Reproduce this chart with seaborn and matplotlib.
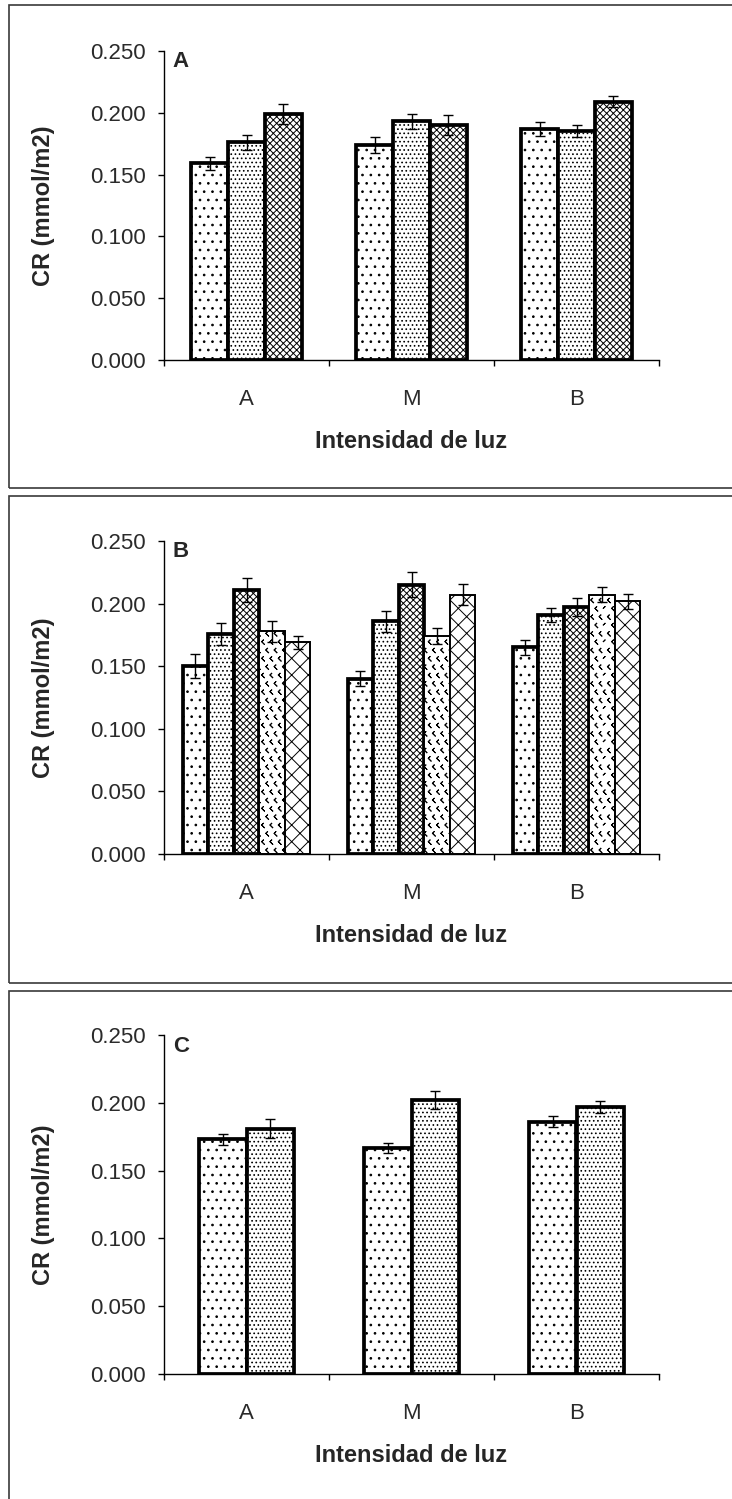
import numpy as np
import pandas as pd
import matplotlib
matplotlib.use("Agg")
import matplotlib.pyplot as plt
import matplotlib.hatch as mhatch
from matplotlib.path import Path
from matplotlib.patches import Rectangle
from matplotlib.container import BarContainer
from matplotlib.ticker import FormatStrFormatter
import seaborn as sns

# ---------------------------------------------------------------- data
categories = ["A", "M", "B"]
yticks = [0.000, 0.050, 0.100, 0.150, 0.200, 0.250]
x_title = "Intensidad de luz"
y_title = "CR (mmol/m2)"
panel_tags = ["A", "B", "C"]

# Panel A: three treatments
a_series = ["T1", "T2", "T3"]
a_t1 = [0.159, 0.174, 0.187]
a_t2 = [0.176, 0.193, 0.185]
a_t3 = [0.199, 0.190, 0.209]
a_t1_err = [0.0052, 0.0065, 0.0055]
a_t2_err = [0.0060, 0.0060, 0.0048]
a_t3_err = [0.0078, 0.0080, 0.0046]

# Panel B: five treatments
b_series = ["T1", "T2", "T3", "T4", "T5"]
b_t1 = [0.150, 0.140, 0.165]
b_t2 = [0.176, 0.186, 0.191]
b_t3 = [0.211, 0.215, 0.197]
b_t4 = [0.178, 0.174, 0.207]
b_t5 = [0.169, 0.207, 0.202]
b_t1_err = [0.0097, 0.0060, 0.0057]
b_t2_err = [0.0089, 0.0084, 0.0057]
b_t3_err = [0.0096, 0.0100, 0.0073]
b_t4_err = [0.0085, 0.0063, 0.0061]
b_t5_err = [0.0052, 0.0084, 0.0060]

# Panel C: two treatments
c_series = ["T1", "T2"]
c_t1 = [0.173, 0.167, 0.186]
c_t2 = [0.181, 0.202, 0.197]
c_t1_err = [0.0043, 0.0037, 0.0042]
c_t2_err = [0.0069, 0.0066, 0.0045]


# ---------------------------------------------------------------- chevron hatch
class Chevrons(mhatch.Shapes):
    """Small '<' marks laid out on a staggered grid (uses the '*' symbol)."""
    size = 0.2
    filled = True

    def __init__(self, hatch, density):
        self.num_rows = hatch.count("*") * density
        self.shape_vertices = np.array(
            [[0.5, 1.0], [-0.5, 0.0], [0.5, -1.0], [-0.5, 0.0], [0.5, 1.0]])
        self.shape_codes = np.array(
            [Path.MOVETO] + [Path.LINETO] * 4, dtype=Path.code_type)
        super().__init__(hatch, density)


mhatch._hatch_types[mhatch._hatch_types.index(mhatch.Stars)] = Chevrons

# ---------------------------------------------------------------- style
sns.set_style("ticks")
plt.rcParams["font.family"] = ["Liberation Sans", "DejaVu Sans"]
plt.rcParams["hatch.linewidth"] = 0.7
plt.rcParams["hatch.color"] = "black"

hatches = ["..", "....", "xxxxx", "**", "xx"]
edge_widths = [2.7, 2.7, 2.7, 1.4, 1.4]
tick_color = "#2a2a2a"

W, H = 732, 1499
fig = plt.figure(figsize=(W / 100, H / 100), dpi=100)


def frame(top_px, bottom_px):
    y0 = 1 - bottom_px / H
    y1 = 1 - top_px / H
    fig.add_artist(Rectangle((9 / W, y0), 1.05 - 9 / W, y1 - y0,
                             transform=fig.transFigure, fill=False,
                             edgecolor="#3a3a3a", linewidth=1.2, zorder=0))


def axes_at(left_px, right_px, top_px, bottom_px):
    return fig.add_axes([left_px / W, 1 - bottom_px / H,
                         (right_px - left_px) / W, (bottom_px - top_px) / H])


def panel(ax, series, means, errs, group_width, tag):
    df = pd.DataFrame({
        "cat": np.tile(categories, len(series)),
        "serie": np.repeat(series, len(categories)),
        "val": np.concatenate(means),
    })
    sns.barplot(data=df, x="cat", y="val", hue="serie", order=categories,
                hue_order=series, palette=["white"] * len(series),
                saturation=1, width=group_width, gap=0, errorbar=None,
                edgecolor="black", legend=False, ax=ax, zorder=2)
    bar_sets = [c for c in ax.containers if isinstance(c, BarContainer)]
    for i, cont in enumerate(bar_sets):
        xs, ys = [], []
        for bar in cont:
            bar.set_hatch(hatches[i])
            bar.set_linewidth(edge_widths[i])
            bar.set_edgecolor("black")
            xs.append(bar.get_x() + bar.get_width() / 2)
            ys.append(bar.get_height())
        ax.errorbar(xs, ys, yerr=errs[i], fmt="none", ecolor="black",
                    elinewidth=1.0, capsize=3.8, capthick=1.0, zorder=4)

    ax.set_xlim(-0.5, 2.5)
    ax.set_ylim(0, 0.25)
    ax.set_yticks(yticks)
    ax.yaxis.set_major_formatter(FormatStrFormatter("%.3f"))
    ax.set_xticks(range(len(categories)))
    ax.set_xticklabels(categories)
    ax.set_xticks([-0.5, 0.5, 1.5, 2.5], minor=True)
    ax.tick_params(axis="x", which="major", length=0, pad=21,
                   labelsize=16, labelcolor=tick_color)
    ax.tick_params(axis="x", which="minor", length=4.5, width=1.0,
                   direction="out", color="black")
    ax.tick_params(axis="y", length=4, width=1.0, direction="out",
                   pad=9, labelsize=16, labelcolor=tick_color, color="black")
    for side in ("top", "right"):
        ax.spines[side].set_visible(False)
    for side in ("left", "bottom"):
        ax.spines[side].set_linewidth(1.0)
        ax.spines[side].set_color("black")
    ax.set_xlabel(x_title, fontsize=17, fontweight="bold", labelpad=14)
    ax.set_ylabel(y_title, fontsize=17, fontweight="bold", labelpad=25.5)
    ax.text(0.018, 0.965, tag, transform=ax.transAxes, fontsize=16,
            fontweight="bold", ha="left", va="center")


frame(5, 488)
frame(496, 983)
frame(991, 1520)

ax_a = axes_at(164, 659, 51, 360)
panel(ax_a, a_series, [a_t1, a_t2, a_t3], [a_t1_err, a_t2_err, a_t3_err],
      0.667, panel_tags[0])

ax_b = axes_at(164, 659, 541, 854)
panel(ax_b, b_series, [b_t1, b_t2, b_t3, b_t4, b_t5],
      [b_t1_err, b_t2_err, b_t3_err, b_t4_err, b_t5_err], 0.774, panel_tags[1])

ax_c = axes_at(164, 659, 1035, 1374)
panel(ax_c, c_series, [c_t1, c_t2], [c_t1_err, c_t2_err], 0.57, panel_tags[2])

fig.savefig("out.png", dpi=100)
